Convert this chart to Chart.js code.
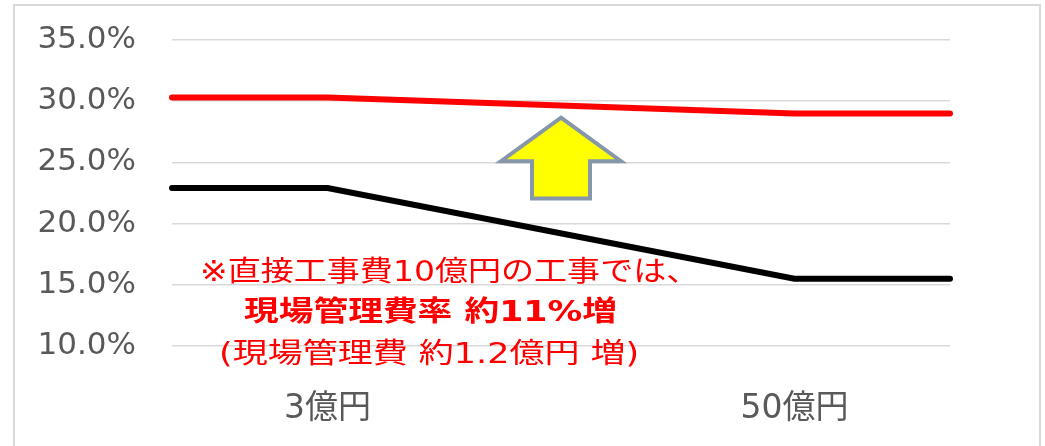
<!DOCTYPE html>
<html>
<head>
<meta charset="utf-8">
<script src="https://cdn.jsdelivr.net/npm/chart.js@4/dist/chart.umd.min.js"></script>
<style>
  html, body { margin: 0; padding: 0; background: #fff; }
  canvas { display: block; }
</style>
</head>
<body>
<canvas id="myChart" width="1045" height="446"></canvas>
<script>
// categories (only the two labelled ones carry text)
const categories = ["", "3億円", "", "", "50億円", ""];
// 現場管理費率 (new / old)
const redSeries = [30.3, 30.3, null, null, 29.0, 29.0];
const blackSeries = [22.9, 22.9, null, null, 15.5, 15.5];
// y axis range, %
const yMin = 10;
const yMax = 35;
const yStep = 5;
// annotation lines
const noteLines = [
  "※直接工事費10億円の工事では、",
  "現場管理費率 約11%増",
  "(現場管理費 約1.2億円 増)",
];

const data = {
  labels: categories,
  datasets: [
    {
      label: "red",
      data: redSeries,
      borderColor: "#ff0000",
      borderWidth: 6,
      borderCapStyle: "round",
      pointRadius: 0,
      spanGaps: true,
      tension: 0,
    },
    {
      label: "black",
      data: blackSeries,
      borderColor: "#000000",
      borderWidth: 6,
      borderCapStyle: "round",
      pointRadius: 0,
      spanGaps: true,
      tension: 0,
    },
  ],
};

/* frame, arrow and red note */
const extras = {
  id: "extras",
  beforeDraw(chart) {
    const ctx = chart.ctx;
    ctx.save();
    ctx.strokeStyle = "#d9d9d9";
    ctx.lineWidth = 2;
    ctx.strokeRect(14, 5, 1026, 470);
    ctx.restore();
  },
  afterDatasetsDraw(chart) {
    const ctx = chart.ctx;
    const x = chart.scales.x;
    const y = chart.scales.y;
    // up arrow between the two labelled categories
    const cx = x.getPixelForValue(2.5);
    const tip = y.getPixelForValue(28.65);
    const base = y.getPixelForValue(25.1);
    const bottom = y.getPixelForValue(22.05);
    ctx.save();
    ctx.beginPath();
    ctx.moveTo(cx, tip);
    ctx.lineTo(cx + 60, base);
    ctx.lineTo(cx + 29, base);
    ctx.lineTo(cx + 29, bottom);
    ctx.lineTo(cx - 29, bottom);
    ctx.lineTo(cx - 29, base);
    ctx.lineTo(cx - 60, base);
    ctx.closePath();
    ctx.fillStyle = "#ffff00";
    ctx.fill();
    ctx.strokeStyle = "#8697aa";
    ctx.lineWidth = 4;
    ctx.lineJoin = "miter";
    ctx.stroke();
    ctx.restore();

    // note text, slightly widened
    const pos = [
      { x: 200, y: 274, bold: false, sx: 1.18 },
      { x: 244, y: 314, bold: true, sx: 1.24 },
      { x: 219, y: 356, bold: false, sx: 1.25 },
    ];
    ctx.save();
    ctx.fillStyle = "#ff0000";
    ctx.textBaseline = "middle";
    ctx.textAlign = "left";
    noteLines.forEach((t, i) => {
      const p = pos[i];
      ctx.save();
      ctx.translate(p.x, p.y);
      ctx.scale(p.sx, 1);
      ctx.font = (p.bold ? "bold " : "") + '28px "DejaVu Sans", "Noto Sans CJK JP", sans-serif';
      ctx.fillText(t, 0, 0);
      ctx.restore();
    });
    ctx.restore();
  },
};

const config = {
  type: "line",
  data: data,
  options: {
    responsive: false,
    animation: false,
    layout: {
      padding: { top: 40, right: 95, bottom: 0, left: 0 },
    },
    plugins: {
      legend: { display: false },
      tooltip: { enabled: false },
    },
    scales: {
      x: {
        grid: { display: false, drawTicks: false },
        border: { display: false },
        ticks: {
          autoSkip: false,
          maxRotation: 0,
          padding: 44,
          color: "#595959",
          font: { family: '"DejaVu Sans", "Noto Sans CJK JP"', size: 33 },
        },
        afterFit(scale) {
          scale.height = 100;
          scale.paddingLeft = 0;
          scale.paddingRight = 0;
        },
      },
      y: {
        min: yMin,
        max: yMax,
        grid: { color: "#d9d9d9", lineWidth: 1.5, drawTicks: false },
        border: { display: false },
        ticks: {
          stepSize: yStep,
          padding: 36,
          color: "#595959",
          font: { family: '"DejaVu Sans"', size: 31 },
          callback: (v) => v.toFixed(1) + "%",
        },
        afterFit(scale) {
          scale.width = 172;
          // keep the plot top at the layout padding
          scale.paddingTop = 0;
          scale.paddingBottom = 0;
        },
      },
    },
  },
  plugins: [extras],
};

const context = document.getElementById("myChart").getContext("2d");
const chart = new Chart(context, config);
</script>
</body>
</html>
